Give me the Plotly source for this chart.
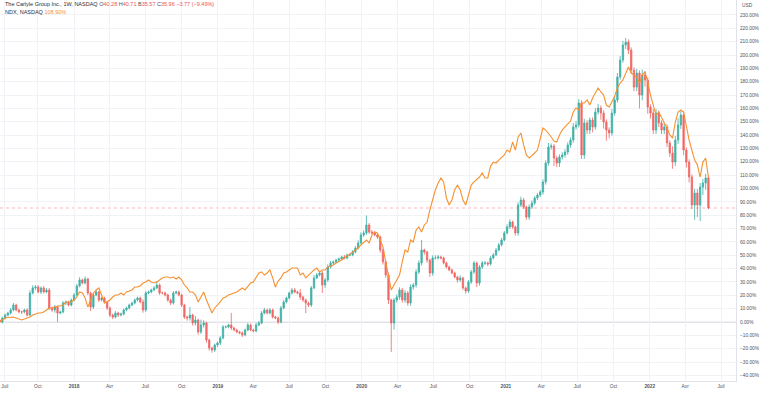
import pandas as pd
import plotly.graph_objects as go

# ---------------- data (percent change vs first bar) ----------------
start_date = "2017-06-26"
n_bars = 258

cg_close = [
    0, 3, 5.2, 6.7, 9, 12.7, 9, 7.5, 7.5, 9,
    5.2, 21.7, 25.5, 26.2, 22.5, 25.5, 22.5, 24, 10.5, 9,
    11.2, 6.7, 7.5, 14.2, 15, 12.7, 16.5, 20.2, 27, 31.5,
    29.2, 32.2, 21.7, 11.2, 20.2, 22.5, 16.5, 18, 15, 10.5,
    5.2, 3.7, 6.7, 5.2, 6, 9, 10.5, 12.7, 14.2, 16.5,
    18, 15, 9, 21.7, 22.5, 24, 25.5, 27.7, 21.7, 21.7,
    20.2, 16.5, 14.2, 21.7, 22.5, 20.2, 12.7, 3.7, 3, 5.2,
    -0.7, 1.5, -7.5, -2.2, -0.7, -13.5, -19.5, -21, -17.2, -15.7,
    -12, -3.7, -3.7, -2.2, -4.5, -6, -7.5, -8.2, -9.7, -6,
    -2.2, -6, -6.7, -2.2, -0.7, 6.7, 9, 6.7, 9, 3.7,
    3, 0, 10.5, 15, 18, 21.7, 24, 22.5, 21.7, 18.7,
    16.5, 14.2, 12.7, 25.5, 33, 35.2, 36.7, 27.7, 31.5, 41.2,
    44.2, 45, 46.4, 47.2, 48.7, 47.9, 50.2, 50.2, 52.4, 55.4,
    59.2, 65.2, 66.7, 72.7, 67.4, 66.7, 65.2, 63.7, 53.9, 45,
    35.2, 16.5, -0.7, 16.5, 18.7, 24, 16.5, 21.7, 14.2, 26.2,
    27.7, 37.5, 44.2, 53.9, 52.4, 46.4, 36.7, 47.9, 47.9, 48.7,
    47.9, 44.2, 41.2, 39, 36.7, 33.7, 31.5, 33, 25.5, 23.2,
    30, 37.5, 44.2, 29.2, 41.2, 44.2, 44.2, 43.4, 47.9, 50.2,
    53.9, 57.7, 61.4, 66.7, 71.2, 74.9, 71.2, 66.7, 87.6, 91.4,
    86.1, 78.6, 86.1, 89.1, 92.9, 95.1, 97.4, 104.9, 119.1, 131.1,
    131.8, 122.8, 119.1, 123.6, 125.1, 127.3, 132.6, 136.3, 146.1, 147.6,
    164, 125.1, 149.1, 143.8, 151.3, 146.1, 157.3, 160.3, 156.5, 149.8,
    143.8, 141.6, 156.5, 166.3, 183.5, 196.2, 207.5, 209.7, 203.7, 188.7,
    176, 186.5, 170, 185, 181.3, 161, 156.5, 143.8, 156.5, 149.1,
    143.8, 146.1, 134.1, 126.6, 119.8, 136.3, 147.6, 155, 128.8, 119.8,
    108.6, 87.6, 96.6, 87.6, 101.1, 104.1, 107.9, 85.4,
]
cg_first_open = 1.5

# upper / lower wick lengths (percentage points)
cg_wick_up = [
    0.5, 1, 1, 1, 1.5, 1.5, 1, 1, 1, 1,
    1, 2, 2, 1.5, 1.5, 1, 1.5, 1.5, 1.5, 1,
    1.5, 1, 1, 1.5, 1, 1, 1, 1.5, 1.5, 2,
    1, 2, 1, 1, 1.5, 1.5, 1, 1, 1, 1,
    1, 1, 1.5, 1, 1, 1, 1, 1, 1, 1,
    1, 1, 2, 1.5, 1, 1, 1.5, 3, 1, 1,
    1, 1, 1, 1.5, 1, 1, 1, 1, 1, 6,
    1, 3, 1, 4, 2, 1, 1, 1, 1, 1,
    1.5, 1.5, 1, 1, 9, 1, 1, 1, 1, 1,
    1.5, 1, 1, 1.5, 1.5, 1.5, 1.5, 1, 1.5, 1,
    1, 1, 1.5, 1.5, 1, 1, 1.5, 1.5, 1, 3,
    1, 1, 1, 1.5, 2, 1.5, 1, 1.5, 1.5, 2,
    1.5, 1, 1, 1, 1, 1.5, 1, 1, 1.5, 1.5,
    2, 2, 2, 7, 1.5, 1.5, 1.5, 1, 1, 1,
    1, 2, 1, 1.5, 2, 2, 1.5, 2, 1.5, 2,
    1.5, 2, 2, 7.5, 1, 1, 1, 2, 2, 1.5,
    1, 1, 1, 1, 1, 1, 1, 2, 1, 1,
    1.5, 1.5, 1.5, 1, 1.5, 1.5, 1.5, 1, 1.5, 1.5,
    1.5, 1.5, 1.5, 1.5, 2, 2, 1, 1, 2, 2.5,
    1.5, 1, 2, 2, 1.5, 1.5, 1.5, 2, 2, 3,
    2, 1.5, 1.5, 2, 2, 2, 2, 2, 3, 3,
    3, 2, 3, 2, 2, 2, 3, 3, 2, 2,
    2, 2, 3, 3, 3, 3, 3, 3, 2, 2,
    2, 3, 2, 4, 3, 2, 2, 3, 3, 2,
    2, 3, 2, 2, 5, 3, 5, 3, 3, 2,
    2, 2, 3, 3, 3, 3, 3, 1.5,
]
cg_wick_dn = [
    1, 1, 1, 1, 1, 1, 1, 1, 1.5, 1,
    1, 1, 1, 1.5, 1, 1.5, 1, 1, 1.5, 1.5,
    2, 6.7, 1, 1, 1.5, 1, 1, 1, 1, 1,
    1, 1, 1.5, 3, 1.5, 1, 1.5, 1, 1, 1.5,
    1.5, 1.5, 1, 1.5, 1, 1, 1, 1, 1, 1,
    1, 1, 2, 1.5, 1, 1, 1, 1, 1.5, 1,
    1, 1.5, 1.5, 1, 1, 1, 1.5, 1.5, 2, 2,
    2, 2, 2, 1.5, 2, 2, 2, 2, 1.5, 1.5,
    1.5, 1, 1, 1, 1.5, 1, 1, 1, 1.5, 1,
    1, 1, 1, 1, 1, 1, 1, 1, 1, 1,
    1, 1.5, 1, 1, 1, 1, 1, 1, 1, 2,
    1.5, 7.5, 1.5, 1.5, 1, 1, 1, 6, 2, 1.5,
    1, 1, 1, 1, 1, 1, 1, 1, 1, 1,
    1, 1, 1.5, 1.5, 1.5, 1, 1, 1.5, 2, 2,
    2, 3, 21.8, 5, 2, 2, 2, 2, 2, 2,
    2, 2, 1.5, 2, 2, 2, 3, 2, 1, 1,
    1, 1, 1, 1, 1, 1, 2, 1.5, 1.5, 2,
    1.5, 1.5, 1.5, 3, 2, 1.5, 1.5, 1.5, 1, 1,
    1, 1, 1, 1, 1, 1.5, 1.5, 2, 2, 1.5,
    1.5, 2, 2, 1.5, 1.5, 1.5, 1.5, 2, 2, 2,
    2, 6, 3, 3, 2, 2, 2, 2, 2, 2,
    2, 3, 3, 3, 3, 4, 2, 2, 5, 5,
    8, 4, 2, 2, 2, 2, 2, 3, 3, 3,
    3, 3, 10, 4, 5, 5, 4, 3, 3, 3,
    3, 3, 3, 3, 5, 3, 3, 3, 4, 4,
    4, 3, 11, 9, 12, 6, 5, 1,
]

ndx_pct = [
    0, 1.5, 3, 3.4, 3.7, 3.7, 3, 2.2, 1.5, 2.2,
    3, 3.7, 5.2, 6, 6.7, 6.7, 7.5, 9, 10.5, 10.5,
    11.2, 12, 12, 12.7, 15, 15, 15, 16.5, 18.7, 22.5,
    21.7, 18, 11.2, 16.5, 21.7, 24, 25.5, 20.2, 14.2, 15,
    16.5, 18.7, 20.2, 20.2, 21.7, 20.2, 22.5, 23.2, 24, 26.2,
    26.2, 27, 29.2, 30, 31.5, 30, 29.2, 30, 31.5, 33,
    33.7, 33.7, 33, 33.7, 32.2, 33.7, 31.5, 27.7, 25.5, 22.5,
    22.5, 20.2, 15, 18.7, 22.5, 16.5, 11.2, 6.7, 10.5, 12.7,
    15, 18, 18.7, 20.2, 21, 21.7, 22.5, 24, 25.5, 24,
    26.2, 29.2, 30, 33, 36.7, 37.5, 35.2, 36.7, 39, 33,
    26.2, 30.7, 33, 36.7, 37.5, 39, 40.4, 40.4, 40.4, 35.2,
    36.7, 33, 35.2, 37.5, 39, 40.4, 37.5, 39, 39, 41.2,
    42, 42.7, 44.2, 45, 46.4, 47.9, 49.4, 50.9, 52.4, 53.9,
    55.4, 57.7, 59.2, 61.4, 59.2, 65.2, 67.4, 66.7, 61.4, 56.2,
    45, 33, 24, 27.7, 31.5, 35.2, 45, 53.9, 52.4, 61.4,
    59.9, 68.9, 71.2, 67.4, 72.7, 74.9, 83.9, 91.4, 98.9, 104.1,
    107.9, 104.9, 92.9, 87.6, 91.4, 98.9, 102.6, 98.9, 91.4, 87.6,
    95.1, 102.6, 104.9, 106.4, 108.6, 111.6, 107.9, 107.9, 116.8, 119.8,
    119.1, 121.3, 123.6, 125.1, 128.8, 127.3, 134.8, 128.8, 138.6, 141.6,
    132.6, 125.1, 122.8, 125.1, 126.6, 128.8, 136.3, 145.3, 143.8, 141.6,
    138.6, 135.6, 134.8, 140.1, 143.8, 146.1, 148.3, 150.5, 157.3, 160.3,
    158.8, 164, 164, 166.3, 162.5, 167.8, 171.5, 175.3, 172.3, 170,
    162.5, 161, 164.8, 169.3, 175.3, 179, 181.3, 186.5, 191, 186.5,
    185, 183.5, 179, 185, 187.3, 179.8, 170, 162.5, 155, 157.3,
    152.8, 149.1, 145.3, 140.1, 137.8, 149.8, 157.3, 158.8, 157.3, 146.1,
    136.3, 128.8, 121.3, 117.6, 108.6, 119.8, 122.8, 108.6,
]

x_tick_dates = ["2017-07-09", "2017-10-01", "2018-01-01", "2018-04-01", "2018-07-01",
                "2018-10-01", "2019-01-01", "2019-04-01", "2019-07-01", "2019-10-01",
                "2020-01-01", "2020-04-01", "2020-07-01", "2020-10-01", "2021-01-01",
                "2021-04-01", "2021-07-01", "2021-10-01", "2022-01-01", "2022-04-01",
                "2022-07-01"]
x_tick_labels = ["Juil", "Oct", "<b>2018</b>", "Avr", "Juil", "Oct", "<b>2019</b>", "Avr",
                 "Juil", "Oct", "<b>2020</b>", "Avr", "Juil", "Oct", "<b>2021</b>", "Avr",
                 "Juil", "Oct", "<b>2022</b>", "Avr", "Juil"]
y_tick_values = list(range(-40, 240, 10))

legend_cg_name = "The Carlyle Group Inc., 1W, NASDAQ"
legend_cg_ohlc = [("O", "40.28"), ("H", "40.71"), ("B", "35.57"), ("C", "35.96")]
legend_cg_change = "\u22123.77 (\u22129.49%)"
legend_ndx_name = "NDX, NASDAQ"
legend_ndx_value = "108.90%"

# ---------------- build ----------------
dates = pd.date_range(start_date, periods=n_bars, freq="W-MON")
cg_open = [cg_first_open] + cg_close[:-1]
cg_high = [max(o, c) + w for o, c, w in zip(cg_open, cg_close, cg_wick_up)]
cg_low = [min(o, c) - w for o, c, w in zip(cg_open, cg_close, cg_wick_dn)]

UP = "#26a69a"
DOWN = "#ef5350"
LINE = "#f5912f"
FONT = "Liberation Sans, Arial, sans-serif"
TXT = "#50535e"
AX_FS = 4.8
LEG_FS = 5.5

fig = go.Figure()
fig.add_trace(go.Candlestick(
    x=dates, open=cg_open, high=cg_high, low=cg_low, close=cg_close,
    increasing=dict(line=dict(color=UP, width=0.8), fillcolor=UP),
    decreasing=dict(line=dict(color=DOWN, width=0.8), fillcolor=DOWN),
    whiskerwidth=0, hoverinfo="skip", showlegend=False, opacity=0.88,
))
fig.add_trace(go.Scatter(
    x=dates, y=ndx_pct, mode="lines",
    line=dict(color=LINE, width=1.1),
    hoverinfo="skip", showlegend=False,
))

def fmt_pct(v):
    s = f"{abs(v):.2f}%"
    return ("\u2212" + s) if v < 0 else s

fig.update_layout(
    width=760, height=394,
    margin=dict(l=0, r=24, t=0, b=13, autoexpand=False),
    paper_bgcolor="white", plot_bgcolor="white",
    font=dict(family=FONT, size=AX_FS, color=TXT),
    hovermode=False,
    xaxis=dict(
        type="date", range=["2017-06-27", "2022-08-08"],
        rangeslider=dict(visible=False),
        tickvals=x_tick_dates, ticktext=x_tick_labels,
        showgrid=True, gridcolor="#f1f2f6", gridwidth=1,
        showline=True, linecolor="#e0e3eb", linewidth=1,
        ticks="", tickfont=dict(size=AX_FS, color=TXT), zeroline=False,
        ticklabeloverflow="allow", automargin=False,
    ),
    yaxis=dict(
        side="right", range=[-44.2, 241.2],
        tickvals=y_tick_values, ticktext=[fmt_pct(v) for v in y_tick_values],
        showgrid=True, gridcolor="#f1f2f6", gridwidth=1,
        showline=True, linecolor="#e0e3eb", linewidth=1,
        ticks="", tickfont=dict(size=AX_FS, color=TXT), zeroline=False,
        ticklabelstandoff=2, automargin=False,
    ),
    shapes=[
        dict(type="line", xref="paper", x0=0, x1=1, yref="y", y0=0, y1=0,
             line=dict(color="#d6d8de", width=1.6), layer="below"),
        dict(type="line", xref="paper", x0=0, x1=1, yref="y",
             y0=cg_close[-1], y1=cg_close[-1],
             line=dict(color="rgba(242,54,69,0.45)", width=0.8, dash="dot"),
             layer="below"),
    ],
)

ohlc_txt = " ".join(
    f"<span style='color:{TXT}'>{k}</span><span style='color:{DOWN}'>{v}</span>"
    for k, v in legend_cg_ohlc
)
line1 = (f"<span style='color:#2a2e39'>{legend_cg_name}</span> {ohlc_txt} "
         f"<span style='color:{DOWN}'>{legend_cg_change}</span>")
line2 = (f"<span style='color:#2a2e39'>{legend_ndx_name}</span> "
         f"<span style='color:{LINE}'>{legend_ndx_value}</span>")

fig.add_annotation(text=line1, xref="paper", yref="paper", x=0.004, y=1 - 4.5 / 381,
                   xanchor="left", yanchor="middle", showarrow=False,
                   font=dict(size=LEG_FS, family=FONT))
fig.add_annotation(text=line2, xref="paper", yref="paper", x=0.004, y=1 - 11.5 / 381,
                   xanchor="left", yanchor="middle", showarrow=False,
                   font=dict(size=LEG_FS, family=FONT))
fig.add_annotation(text="USD", xref="paper", yref="paper", x=740 / 736, y=1 - 5 / 381,
                   xanchor="left", yanchor="middle", showarrow=False,
                   font=dict(size=AX_FS, family=FONT, color=TXT))

fig.write_html(
    "out.html",
    config={"displayModeBar": False},
    post_script="document.body.style.margin='0';document.body.style.overflow='hidden';",
)
